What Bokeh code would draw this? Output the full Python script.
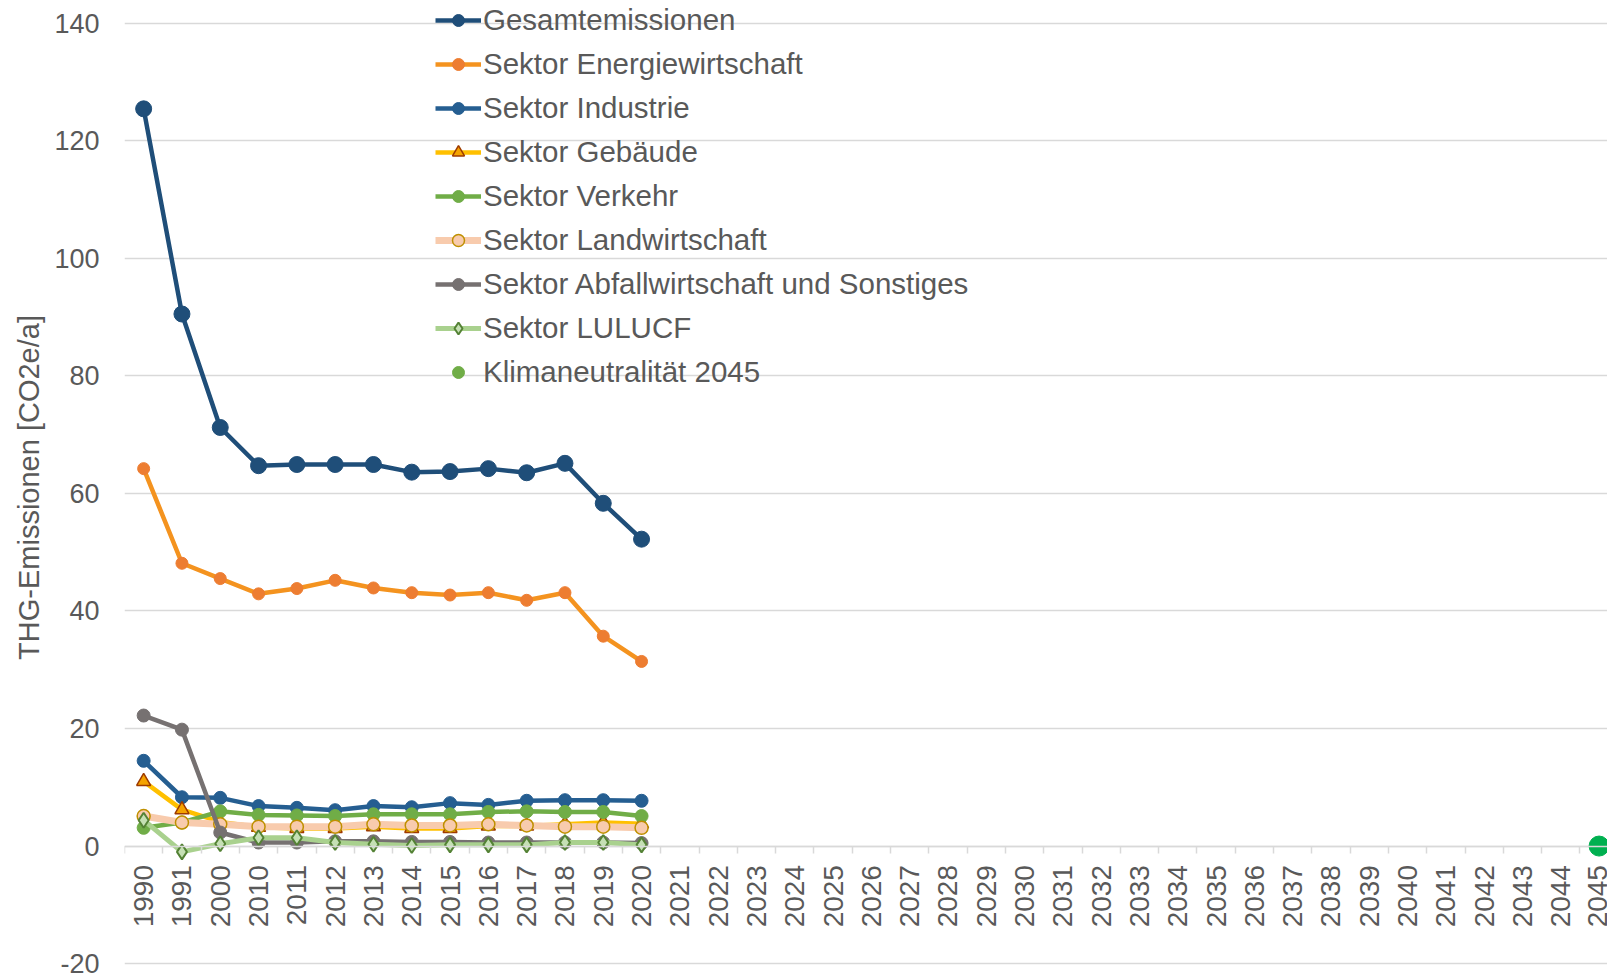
import math
from bokeh.plotting import figure
from bokeh.models import Range1d, FixedTicker
from bokeh.embed import file_html
from bokeh.resources import INLINE

# ---- data ----
years = ["1990", "1991", "2000"] + [str(y) for y in range(2010, 2046)]
data_years = ["1990", "1991", "2000", "2010", "2011", "2012", "2013", "2014",
              "2015", "2016", "2017", "2018", "2019", "2020"]

gesamt = [125.4, 90.5, 71.2, 64.7, 64.9, 64.9, 64.9, 63.6, 63.7, 64.2, 63.5, 65.1, 58.3, 52.2]
energie = [64.2, 48.1, 45.5, 42.9, 43.8, 45.2, 43.9, 43.1, 42.7, 43.1, 41.8, 43.1, 35.7, 31.4]
industrie = [14.5, 8.3, 8.2, 6.8, 6.5, 6.1, 6.8, 6.6, 7.3, 7.0, 7.7, 7.8, 7.8, 7.7]
gebaeude = [11.0, 6.2, 4.1, 3.2, 3.0, 3.0, 3.3, 3.0, 3.0, 3.4, 3.4, 3.7, 4.0, 3.8]
verkehr = [3.1, 4.0, 5.9, 5.3, 5.2, 5.1, 5.4, 5.4, 5.4, 5.8, 5.9, 5.8, 5.8, 5.1]
landwirtschaft = [5.1, 4.0, 3.7, 3.3, 3.3, 3.3, 3.7, 3.5, 3.5, 3.7, 3.5, 3.3, 3.3, 3.1]
abfall = [22.2, 19.8, 2.3, 0.6, 0.6, 0.8, 0.8, 0.7, 0.7, 0.6, 0.6, 0.6, 0.6, 0.5]
lulucf = [4.4, -1.0, 0.4, 1.4, 1.4, 0.6, 0.3, 0.1, 0.2, 0.2, 0.2, 0.6, 0.6, 0.2]
klima_years = ["2045"]
klima_values = [0]

y_ticks = [-20, 0, 20, 40, 60, 80, 100, 120, 140]

FONT = "Liberation Sans"
TXT = "#595959"
GRID = "#d9d9d9"

pos = {y: i for i, y in enumerate(years)}
xs = [pos[y] for y in data_years]
kx = [pos[y] for y in klima_years]

p = figure(width=1607, height=974,
           x_range=Range1d(-0.5, 38.22), y_range=Range1d(-21.85, 143.83),
           output_backend="svg", toolbar_location=None,
           min_border_left=124, min_border_right=0,
           min_border_top=0, min_border_bottom=0)
p.outline_line_color = None
p.background_fill_color = "white"

series = [
    ("Gesamtemissionen", gesamt, dict(color="#1f4e79", width=4.5),
     dict(marker="circle", size=16, fill_color="#1f4e79", line_color="#1f4e79")),
    ("Sektor Energiewirtschaft", energie, dict(color="#f4931f", width=4.5),
     dict(marker="circle", size=12, fill_color="#ed7d31", line_color="#ed7d31")),
    ("Sektor Industrie", industrie, dict(color="#255e91", width=4.5),
     dict(marker="circle", size=13, fill_color="#255e91", line_color="#255e91")),
    ("Sektor Gebäude", gebaeude, dict(color="#ffc000", width=4.5),
     dict(marker="triangle", size=14, fill_color="#f5a300", line_color="#9e3b00", line_width=1.5)),
    ("Sektor Verkehr", verkehr, dict(color="#70ad47", width=4.5),
     dict(marker="circle", size=13, fill_color="#70ad47", line_color="#70ad47")),
    ("Sektor Landwirtschaft", landwirtschaft, dict(color="#f8cbad", width=7),
     dict(marker="circle", size=13, fill_color="#f8cbad", line_color="#bf9000", line_width=1.5)),
    ("Sektor Abfallwirtschaft und Sonstiges", abfall, dict(color="#767171", width=4.5),
     dict(marker="circle", size=13, fill_color="#767171", line_color="#767171")),
    ("Sektor LULUCF", lulucf, dict(color="#a9d18e", width=5),
     dict(marker="diamond", size=15, fill_color="#c5e0b4", line_color="#548235", line_width=2)),
]

for name, vals, ln, mk in series:
    p.line(xs, vals, line_color=ln["color"], line_width=ln["width"], legend_label=name)
    p.scatter(xs, vals, legend_label=name, **mk)

p.scatter(kx, klima_values, marker="circle", size=10, fill_color="#70ad47",
          line_color="#70ad47", legend_label="Klimaneutralität 2045")
p.scatter(kx, klima_values, marker="circle", size=20, fill_color="#00b050",
          line_color="#00b050")

# ---- axes ----
xa = p.xaxis[0]
xa.fixed_location = 0
xa.ticker = FixedTicker(ticks=list(range(len(years))),
                        minor_ticks=[i - 0.5 for i in range(len(years) + 1)])
xa.major_label_overrides = {i: y for i, y in enumerate(years)}
xa.major_label_orientation = math.pi / 2
xa.major_label_text_font = FONT
xa.major_label_text_font_size = "28px"
xa.major_label_text_color = TXT
xa.major_label_standoff = 12
xa.major_tick_line_color = None
xa.major_tick_out = 0
xa.major_tick_in = 0
xa.minor_tick_line_color = GRID
xa.minor_tick_line_width = 1.5
xa.minor_tick_out = 7
xa.minor_tick_in = 0
xa.axis_line_color = GRID
xa.axis_line_width = 1.5

ya = p.yaxis[0]
ya.ticker = FixedTicker(ticks=y_ticks)
ya.major_label_overrides = {t: str(t) for t in y_ticks}
ya.major_label_text_font = FONT
ya.major_label_text_font_size = "27px"
ya.major_label_text_color = TXT
ya.major_label_standoff = 25
ya.axis_line_color = None
ya.major_tick_line_color = None
ya.minor_tick_line_color = None
ya.major_tick_out = 0
ya.axis_label = "THG-Emissionen [CO2e/a]"
ya.axis_label_text_font = FONT
ya.axis_label_text_font_size = "29px"
ya.axis_label_text_font_style = "normal"
ya.axis_label_text_color = TXT
ya.axis_label_standoff = 6

p.xgrid.grid_line_color = None
p.ygrid.grid_line_color = GRID
p.ygrid.grid_line_width = 1.5

# ---- legend ----
lg = p.legend[0]
lg.location = (311, 580)
lg.orientation = "vertical"
lg.background_fill_alpha = 0
lg.border_line_color = None
lg.padding = 0
lg.margin = 0
lg.spacing = 0
lg.glyph_width = 46
lg.glyph_height = 30
lg.label_height = 44
lg.label_standoff = 2
lg.label_text_font = FONT
lg.label_text_font_size = "29.5px"
lg.label_text_color = TXT

open("out.html", "w").write(file_html(p, INLINE))
